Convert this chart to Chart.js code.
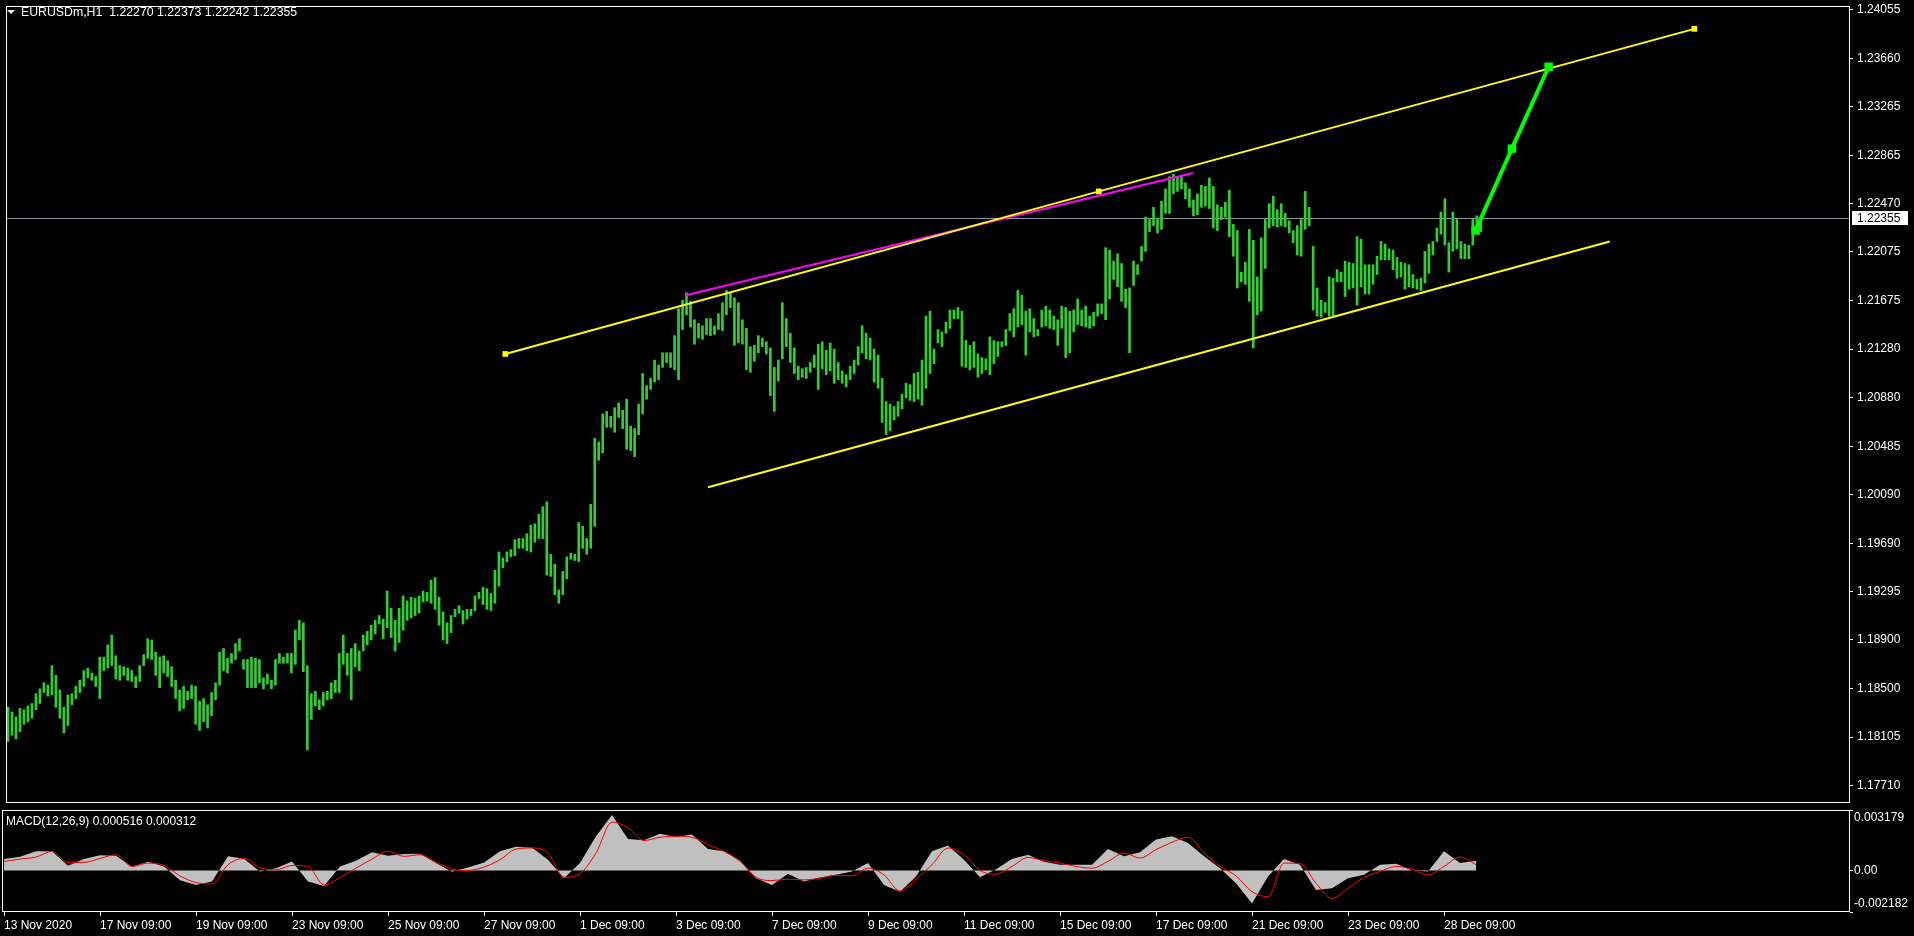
<!DOCTYPE html>
<html>
<head>
<meta charset="utf-8">
<script src="https://cdn.jsdelivr.net/npm/chart.js@4.4.0/dist/chart.umd.min.js"></script>
<style>
html, body { margin: 0; padding: 0; background: #000; overflow: hidden; }
#wrap { position: relative; width: 1914px; height: 936px; }
#mainChart { position: absolute; left: 0; top: 0; }
#macdChart { position: absolute; left: 0; top: 809px; }
</style>
</head>
<body>
<div id="wrap">
  <canvas id="mainChart" width="1914" height="809"></canvas>
  <canvas id="macdChart" width="1914" height="127"></canvas>
</div>
<script>
// EURUSDm H1, one entry per pair of hourly bars (high / low)
var priceHigh = [
  1.1835,1.1831,1.1827,1.1834,1.1833,1.1836,1.1838,1.1846,1.1850,1.1855,
  1.1853,1.1869,1.1861,1.1849,1.1835,1.1845,1.1846,1.1852,1.1857,1.1865,
  1.1867,1.1863,1.1860,1.1876,1.1876,1.1886,1.1894,1.1877,1.1869,1.1868,
  1.1867,1.1865,1.1860,1.1869,1.1878,1.1891,1.1890,1.1880,1.1876,1.1877,
  1.1873,1.1868,1.1857,1.1849,1.1852,1.1848,1.1853,1.1852,1.1840,1.1842,
  1.1837,1.1847,1.1855,1.1880,1.1883,1.1875,1.1879,1.1887,1.1891,1.1874,
  1.1874,1.1876,1.1875,1.1874,1.1859,1.1862,1.1857,1.1874,1.1879,1.1876,
  1.1879,1.1879,1.1898,1.1906,1.1904,1.1869,1.1846,1.1848,1.1841,1.1847,
  1.1848,1.1855,1.1857,1.1879,1.1894,1.1879,1.1883,1.1887,1.1881,1.1894,
  1.1897,1.1902,1.1906,1.1910,1.1907,1.1930,1.1916,1.1906,1.1916,1.1926,
  1.1922,1.1925,1.1924,1.1926,1.1930,1.1929,1.1939,1.1941,1.1925,1.1913,
  1.1904,1.1910,1.1915,1.1918,1.1914,1.1915,1.1915,1.1926,1.1929,1.1933,
  1.1932,1.1928,1.1947,1.1962,1.1957,1.1962,1.1964,1.1972,1.1973,1.1973,
  1.1977,1.1984,1.1985,1.1993,1.1999,1.2003,1.1960,1.1952,1.1931,1.1946,
  1.1958,1.1961,1.1960,1.1986,1.1983,1.1973,1.2001,1.2055,1.2052,1.2075,
  1.2077,1.2073,1.2080,1.2084,1.2078,1.2087,1.2065,1.2063,1.2083,1.2108,
  1.2098,1.2104,1.2119,1.2115,1.2125,1.2125,1.2125,1.2139,1.2161,1.2168,
  1.2174,1.2167,1.2152,1.2149,1.2147,1.2153,1.2153,1.2147,1.2157,1.2166,
  1.2176,1.2174,1.2170,1.2166,1.2152,1.2145,1.2130,1.2131,1.2139,1.2137,
  1.2134,1.2129,1.2113,1.2119,1.2166,1.2153,1.2141,1.2129,1.2114,1.2112,
  1.2113,1.2117,1.2123,1.2132,1.2134,1.2127,1.2133,1.2128,1.2117,1.2110,
  1.2107,1.2114,1.2119,1.2130,1.2147,1.2141,1.2137,1.2128,1.2123,1.2104,
  1.2085,1.2083,1.2081,1.2085,1.2091,1.2100,1.2099,1.2108,1.2109,1.2119,
  1.2155,1.2159,1.2128,1.2144,1.2142,1.2150,1.2160,1.2160,1.2162,1.2159,
  1.2135,1.2131,1.2134,1.2124,1.2121,1.2120,1.2138,1.2135,1.2134,1.2134,
  1.2144,1.2157,1.2161,1.2176,1.2172,1.2159,1.2161,1.2153,1.2144,1.2160,
  1.2163,1.2160,1.2155,1.2152,1.2163,1.2162,1.2159,1.2160,1.2169,1.2160,
  1.2163,1.2155,1.2158,1.2165,1.2165,1.2211,1.2209,1.2200,1.2206,1.2198,
  1.2177,1.2178,1.2200,1.2197,1.2212,1.2236,1.2234,1.2244,1.2235,1.2249,
  1.2259,1.2269,1.2271,1.2269,1.2269,1.2264,1.2259,1.2250,1.2255,1.2262,
  1.2261,1.2268,1.2261,1.2246,1.2244,1.2248,1.2258,1.2230,1.2225,1.2191,
  1.2199,1.2226,1.2217,1.2187,1.2219,1.2234,1.2247,1.2253,1.2242,1.2247,
  1.2239,1.2233,1.2225,1.2229,1.2234,1.2257,1.2244,1.2212,1.2178,1.2168,
  1.2166,1.2187,1.2186,1.2193,1.2191,1.2200,1.2199,1.2198,1.2220,1.2218,
  1.2197,1.2197,1.2197,1.2204,1.2216,1.2214,1.2210,1.2209,1.2203,1.2199,
  1.2198,1.2197,1.2189,1.2185,1.2186,1.2208,1.2214,1.2216,1.2227,1.2240,
  1.2251,1.2215,1.2240,1.2234,1.2216,1.2214,1.2213,1.2234,1.2237,1.2237
];
var priceLow = [
  1.1807,1.1812,1.1809,1.1815,1.1821,1.1823,1.1826,1.1833,1.1838,1.1847,
  1.1844,1.1845,1.1835,1.1826,1.1814,1.1820,1.1837,1.1842,1.1847,1.1852,
  1.1859,1.1857,1.1852,1.1842,1.1865,1.1867,1.1869,1.1858,1.1857,1.1861,
  1.1857,1.1856,1.1851,1.1856,1.1869,1.1875,1.1874,1.1861,1.1851,1.1863,
  1.1860,1.1852,1.1842,1.1832,1.1834,1.1841,1.1842,1.1821,1.1816,1.1823,
  1.1818,1.1828,1.1841,1.1853,1.1865,1.1863,1.1871,1.1874,1.1881,1.1866,
  1.1851,1.1851,1.1851,1.1855,1.1850,1.1854,1.1850,1.1853,1.1871,1.1871,
  1.1871,1.1863,1.1870,1.1890,1.1864,1.1800,1.1825,1.1836,1.1833,1.1836,
  1.1841,1.1842,1.1847,1.1847,1.1870,1.1861,1.1841,1.1868,1.1865,1.1881,
  1.1886,1.1890,1.1895,1.1903,1.1891,1.1900,1.1892,1.1881,1.1888,1.1898,
  1.1906,1.1908,1.1910,1.1912,1.1921,1.1922,1.1920,1.1915,1.1902,1.1890,
  1.1887,1.1896,1.1909,1.1912,1.1903,1.1907,1.1910,1.1914,1.1924,1.1919,
  1.1915,1.1914,1.1920,1.1934,1.1949,1.1954,1.1958,1.1959,1.1965,1.1965,
  1.1963,1.1962,1.1970,1.1973,1.1973,1.1943,1.1942,1.1927,1.1920,1.1927,
  1.1940,1.1956,1.1955,1.1954,1.1965,1.1960,1.1965,1.1983,1.2037,1.2043,
  1.2064,1.2064,1.2060,1.2072,1.2063,1.2046,1.2045,1.2040,1.2058,1.2075,
  1.2087,1.2095,1.2101,1.2103,1.2113,1.2117,1.2113,1.2111,1.2103,1.2144,
  1.2156,1.2146,1.2132,1.2137,1.2136,1.2140,1.2139,1.2140,1.2144,1.2143,
  1.2156,1.2162,1.2131,1.2133,1.2132,1.2111,1.2109,1.2118,1.2125,1.2130,
  1.2124,1.2090,1.2077,1.2102,1.2120,1.2130,1.2117,1.2108,1.2103,1.2105,
  1.2104,1.2109,1.2113,1.2095,1.2112,1.2107,1.2110,1.2100,1.2103,1.2100,
  1.2097,1.2103,1.2108,1.2115,1.2125,1.2120,1.2119,1.2101,1.2096,1.2068,
  1.2058,1.2061,1.2070,1.2073,1.2079,1.2088,1.2086,1.2085,1.2087,1.2082,
  1.2096,1.2108,1.2116,1.2133,1.2130,1.2141,1.2145,1.2153,1.2153,1.2114,
  1.2113,1.2111,1.2113,1.2105,1.2108,1.2111,1.2107,1.2116,1.2122,1.2130,
  1.2131,1.2143,1.2138,1.2146,1.2148,1.2123,1.2142,1.2138,1.2139,1.2146,
  1.2147,1.2145,1.2144,1.2131,1.2145,1.2121,1.2125,1.2142,1.2148,1.2147,
  1.2146,1.2145,1.2147,1.2155,1.2157,1.2152,1.2169,1.2185,1.2179,1.2167,
  1.2162,1.2125,1.2180,1.2189,1.2200,1.2208,1.2224,1.2229,1.2223,1.2226,
  1.2239,1.2239,1.2255,1.2257,1.2259,1.2251,1.2244,1.2237,1.2238,1.2244,
  1.2245,1.2243,1.2227,1.2225,1.2234,1.2236,1.2220,1.2204,1.2178,1.2183,
  1.2181,1.2167,1.2129,1.2156,1.2159,1.2194,1.2227,1.2229,1.2228,1.2229,
  1.2228,1.2223,1.2215,1.2205,1.2204,1.2226,1.2229,1.2160,1.2155,1.2154,
  1.2158,1.2155,1.2155,1.2183,1.2183,1.2171,1.2177,1.2178,1.2164,1.2179,
  1.2173,1.2173,1.2181,1.2189,1.2201,1.2201,1.2201,1.2193,1.2186,1.2187,
  1.2177,1.2179,1.2178,1.2177,1.2176,1.2182,1.2190,1.2205,1.2216,1.2222,
  1.2213,1.2191,1.2208,1.2210,1.2202,1.2202,1.2202,1.2213,1.2225,1.2224
];

// MACD(12,26,9), one sample every 4 entries of the price arrays
var macdStep = 4;
var macdHist = [
  0.000600,0.000724,0.001007,0.001007,0.000247,0.000600,0.000795,0.000777,0.000194,0.000459,
  0.000212,-0.000512,-0.000759,-0.000583,0.000742,0.000618,-0.000053,0.000124,0.000477,-0.000583,
  -0.000812,0.000212,0.000512,0.000954,0.000777,0.000865,0.000883,0.000389,-0.000071,0.000159,
  0.000424,0.001007,0.001254,0.001201,0.000565,-0.000406,0.000389,0.001801,0.002914,0.001660,
  0.001589,0.001925,0.001766,0.001890,0.001130,0.001007,0.000530,-0.000406,-0.000759,-0.000177,
  -0.000583,-0.000371,-0.000230,-0.000053,0.000389,-0.000759,-0.001113,-0.000318,0.001007,0.001307,
  0.000565,-0.000353,0.000071,0.000600,0.000830,0.000459,0.000300,0.000300,0.000300,0.001130,
  0.000742,0.000954,0.001625,0.001801,0.001448,0.000742,0.000124,-0.000671,-0.001731,-0.000318,
  0.000600,0.000300,-0.001024,-0.000936,-0.000406,-0.000230,0.000300,0.000353,0.000000,-0.000053,
  0.001007,0.000389,0.000516
];
var macdSignal = [
  0.000477,0.000600,0.000706,0.001007,0.000424,0.000424,0.000636,0.000830,0.000212,0.000389,
  0.000265,-0.000283,-0.000636,-0.000706,0.000300,0.000636,0.000141,0.000035,0.000265,0.000212,
  -0.000759,-0.000371,0.000124,0.000600,0.001007,0.000742,0.000830,0.000442,0.000071,0.000000,
  0.000177,0.000565,0.001130,0.001183,0.000918,-0.000353,-0.000159,0.000918,0.002543,0.002243,
  0.001572,0.001748,0.001801,0.001748,0.001360,0.001007,0.000477,-0.000353,-0.000530,-0.000459,
  -0.000494,-0.000406,-0.000247,-0.000283,0.000124,-0.000230,-0.001077,-0.000459,0.000300,0.001183,
  0.000830,0.000000,-0.000194,0.000212,0.000689,0.000512,0.000389,0.000212,0.000124,0.000477,
  0.000918,0.000653,0.001095,0.001483,0.001748,0.000918,0.000212,-0.000283,-0.001113,-0.001377,
  0.000389,0.000371,-0.000671,-0.001466,-0.000936,-0.000371,-0.000053,0.000212,0.000071,-0.000230,
  0.000212,0.000706,0.000312
];

// objects drawn on the chart: [position, price]
var upperChannel = [[124.6, 1.2124], [273.3, 1.2257], [422.5, 1.2390]];
var lowerChannel = [[175.4, 1.2015], [401.3, 1.2216]];
var magentaLine = [[169.8, 1.2172], [296.9, 1.2272]];
var projection = [[367.7, 1.2225], [376.8, 1.2292], [386.0, 1.2359]];

var priceTicks = [1.24055, 1.23660, 1.23265, 1.22865, 1.22470, 1.22075, 1.21675, 1.21280, 1.20880,
  1.20485, 1.20090, 1.19690, 1.19295, 1.18900, 1.18500, 1.18105, 1.17710];
var macdTicks = [0.003179, 0, -0.002182];
var dateLabels = ['13 Nov 2020', '17 Nov 09:00', '19 Nov 09:00', '23 Nov 09:00', '25 Nov 09:00',
  '27 Nov 09:00', '1 Dec 09:00', '3 Dec 09:00', '7 Dec 09:00', '9 Dec 09:00', '11 Dec 09:00',
  '15 Dec 09:00', '17 Dec 09:00', '21 Dec 09:00', '23 Dec 09:00', '28 Dec 09:00'];
var dateTickPos = [0, 24, 48, 72, 96, 120, 144, 168, 192, 216, 240, 264, 288, 312, 336, 360];

var symbolName = 'EURUSDm,H1';
var lastBar = [1.22270, 1.22373, 1.22242, 1.22355];
var macdLast = [0.000516, 0.000312];

var priceMin = 1.17566, priceMax = 1.24087;
var macdMin = -0.002182, macdMax = 0.003179;
var posMin = -0.5, posMax = 461.5;

var FONT = '12px "Liberation Sans", Arial, sans-serif';
Chart.defaults.font.family = '"Liberation Sans", Arial, sans-serif';
Chart.defaults.font.size = 12;
Chart.defaults.color = '#ffffff';

function toPoints(arr) {
    return arr.map(function (p) { return { x: p[0], y: p[1] }; });
}
// fixed axis width, and no extra room for the end labels
function fixedWidth(scale) {
    scale.width = 64;
    scale.paddingTop = 0;
    scale.paddingBottom = 0;
}

var framePlugin = {
    id: 'frame',
    afterDraw: function (chart) {
        var a = chart.chartArea, ctx = chart.ctx;
        ctx.save();
        ctx.strokeStyle = '#ffffff';
        ctx.lineWidth = 1;
        ctx.strokeRect(a.left + 0.5, a.top + 0.5, a.right - a.left - 1, a.bottom - a.top - 1);
        ctx.restore();
    }
};

var mainTextPlugin = {
    id: 'mainText',
    beforeDatasetsDraw: function (chart) {
        var a = chart.chartArea, ctx = chart.ctx;
        var py = Math.round(chart.scales.y.getPixelForValue(lastBar[3])) + 0.5;
        ctx.save();
        ctx.strokeStyle = '#8a939e';
        ctx.lineWidth = 1;
        ctx.beginPath();
        ctx.moveTo(a.left, py);
        ctx.lineTo(a.right, py);
        ctx.stroke();
        ctx.restore();
    },
    afterDraw: function (chart) {
        var a = chart.chartArea, ctx = chart.ctx;
        var py = Math.round(chart.scales.y.getPixelForValue(lastBar[3]));
        ctx.save();
        // header
        ctx.fillStyle = '#ffffff';
        ctx.beginPath();
        ctx.moveTo(7, 10);
        ctx.lineTo(15, 10);
        ctx.lineTo(11, 14);
        ctx.closePath();
        ctx.fill();
        ctx.font = '12.3px "Liberation Sans", Arial, sans-serif';
        ctx.textBaseline = 'middle';
        ctx.textAlign = 'left';
        ctx.fillText(symbolName + '  ' + lastBar.map(function (v) { return v.toFixed(5); }).join(' '), 21, 13);
        // last price box on the axis
        ctx.font = FONT;
        ctx.fillRect(a.right + 2, py - 7, 56, 14);
        ctx.fillStyle = '#000000';
        ctx.fillText(lastBar[3].toFixed(5), a.right + 7, py + 0.5);
        ctx.restore();
    }
};

var macdTextPlugin = {
    id: 'macdText',
    afterDraw: function (chart) {
        var a = chart.chartArea, ctx = chart.ctx, y = chart.scales.y;
        ctx.save();
        ctx.fillStyle = '#ffffff';
        ctx.font = FONT;
        ctx.textBaseline = 'middle';
        ctx.textAlign = 'left';
        ctx.fillText('MACD(12,26,9) ' + macdLast[0].toFixed(6) + ' ' + macdLast[1].toFixed(6), a.left + 4, a.top + 12);
        macdTicks.forEach(function (v) {
            var py = Math.min(Math.max(y.getPixelForValue(v), a.top + 8), a.bottom - 8);
            ctx.fillText(v === 0 ? '0.00' : v.toFixed(6), a.right + 4, py);
        });
        ctx.restore();
    }
};

var bars = priceHigh.map(function (h, i) { return { x: i, y: [priceLow[i], h] }; });

var mainChart = new Chart(document.getElementById('mainChart').getContext('2d'), {
    type: 'bar',
    data: {
        datasets: [
            {
                type: 'line', data: toPoints(projection), borderColor: '#00ff00', borderWidth: 4,
                pointStyle: 'rect', pointRadius: 6, pointBackgroundColor: '#00ff00', pointBorderWidth: 0,
                fill: false, tension: 0, order: 1
            },
            {
                type: 'line', data: toPoints(upperChannel), borderColor: '#ffff00', borderWidth: 2,
                pointStyle: 'rect', pointRadius: 4, pointBackgroundColor: '#ffff00', pointBorderWidth: 0,
                fill: false, tension: 0, order: 2
            },
            {
                type: 'line', data: toPoints(lowerChannel), borderColor: '#ffff00', borderWidth: 2,
                pointRadius: 0, fill: false, tension: 0, order: 2
            },
            {
                type: 'line', data: toPoints(magentaLine), borderColor: '#ff00ff', borderWidth: 2,
                pointRadius: 0, fill: false, tension: 0, order: 3
            },
            {
                label: 'EURUSDm', data: bars, backgroundColor: '#32cd32', borderWidth: 0,
                barThickness: 2, order: 5
            }
        ]
    },
    options: {
        responsive: false,
        animation: false,
        events: [],
        layout: { padding: { left: 2, top: 1, right: 0, bottom: 1 } },
        plugins: { legend: { display: false }, tooltip: { enabled: false } },
        scales: {
            x: { type: 'linear', display: false, min: posMin, max: posMax, offset: false, grid: { offset: false } },
            y: {
                type: 'linear', position: 'right', min: priceMin, max: priceMax, bounds: 'data',
                afterBuildTicks: function (s) { s.ticks = priceTicks.map(function (v) { return { value: v }; }); },
                afterFit: fixedWidth,
                grid: { drawOnChartArea: false, drawTicks: true, tickLength: 3, color: '#ffffff', tickColor: '#ffffff' },
                border: { display: false },
                ticks: {
                    autoSkip: false, padding: 4, color: '#ffffff',
                    callback: function (v) { return v.toFixed(5); }
                }
            }
        }
    },
    plugins: [framePlugin, mainTextPlugin]
});

var macdChart = new Chart(document.getElementById('macdChart').getContext('2d'), {
    type: 'line',
    data: {
        datasets: [
            {
                label: 'Signal', data: macdSignal.map(function (v, i) { return { x: i * macdStep, y: v }; }),
                borderColor: '#ff0000', borderWidth: 1, pointRadius: 0, fill: false,
                cubicInterpolationMode: 'monotone', order: 1
            },
            {
                label: 'MACD', data: macdHist.map(function (v, i) { return { x: i * macdStep, y: v }; }),
                borderColor: '#c0c0c0', backgroundColor: '#c0c0c0', borderWidth: 0, pointRadius: 0,
                fill: 'origin', tension: 0, order: 2
            }
        ]
    },
    options: {
        responsive: false,
        animation: false,
        events: [],
        layout: { padding: { left: 2, top: 1, right: 0, bottom: 0 } },
        plugins: { legend: { display: false }, tooltip: { enabled: false } },
        scales: {
            x: {
                type: 'linear', min: posMin, max: posMax, offset: false,
                afterBuildTicks: function (s) { s.ticks = dateTickPos.map(function (v) { return { value: v }; }); },
                afterFit: function (s) { s.height = 24; s.paddingLeft = 0; s.paddingRight = 0; },
                grid: { drawOnChartArea: false, drawTicks: true, tickLength: 4, color: '#ffffff', tickColor: '#ffffff' },
                border: { display: false },
                ticks: {
                    align: 'start', autoSkip: false, maxRotation: 0, padding: 2, color: '#ffffff',
                    callback: function (v, i) { return dateLabels[i]; }
                }
            },
            y: {
                type: 'linear', position: 'right', min: macdMin, max: macdMax, bounds: 'data',
                afterBuildTicks: function (s) { s.ticks = macdTicks.map(function (v) { return { value: v }; }); },
                afterFit: fixedWidth,
                grid: { drawOnChartArea: false, drawTicks: true, tickLength: 3, color: '#ffffff', tickColor: '#ffffff' },
                border: { display: false },
                ticks: { display: false }
            }
        }
    },
    plugins: [framePlugin, macdTextPlugin]
});
</script>
</body>
</html>
